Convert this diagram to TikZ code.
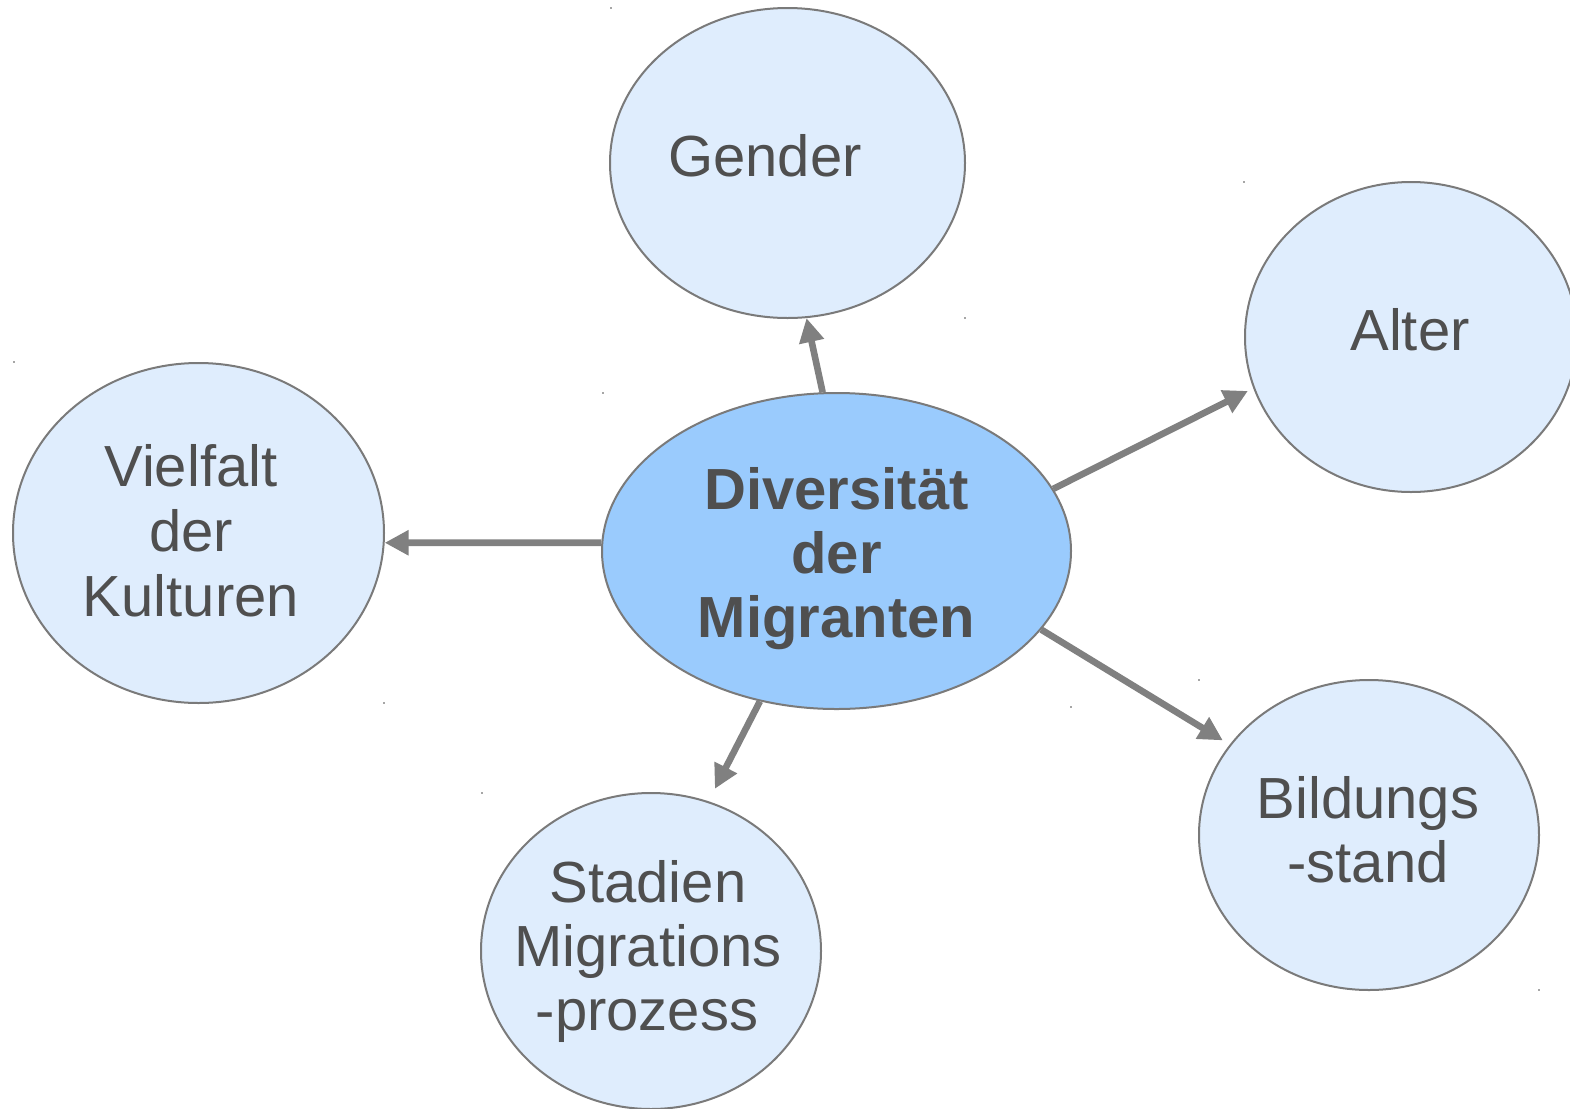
\documentclass[tikz,border=0pt]{standalone}
\usepackage{fontspec}
\setmainfont{Liberation Sans}
\usetikzlibrary{shapes.geometric,arrows.meta}
\definecolor{lightfill}{HTML}{DFEDFD}
\definecolor{mainfill}{HTML}{9ACBFD}
\definecolor{bordergray}{HTML}{7A7A7A}
\definecolor{txtgray}{HTML}{4F4F4F}
\definecolor{arrowgray}{HTML}{808080}
\tikzset{
  bubble/.style={ellipse, draw=bordergray, line width=1pt, fill=lightfill, inner sep=0pt},
  mainbubble/.style={bubble, fill=mainfill},
  lbl/.style={anchor=base, inner sep=0pt, text=txtgray, font=\fontsize{29pt}{32pt}\selectfont},
  mainlbl/.style={lbl, font=\fontsize{29pt}{32pt}\selectfont\bfseries},
  link/.style={draw=arrowgray, line width=3.3pt, -{Triangle[length=12pt,width=12pt]}},
  speck/.style={fill=arrowgray!70, inner sep=0pt, minimum size=1pt}
}
\begin{document}
\begin{tikzpicture}[x=0.5pt,y=-0.5pt]
\useasboundingbox (0,0) rectangle (1570,1109);
\clip (0,0) rectangle (1570,1109);
\fill[white] (0,0) rectangle (1570,1109);

% bubbles
\node[bubble, minimum width=177.5pt, minimum height=155pt] (g) at (787.5,163) {};
\node[bubble, minimum width=166pt, minimum height=155pt] (a) at (1411,337) {};
\node[bubble, minimum width=185.5pt, minimum height=170pt] (v) at (198.5,533) {};
\node[mainbubble, minimum width=234.5pt, minimum height=158pt] (c) at (836.5,551) {};
\node[bubble, minimum width=170pt, minimum height=158pt] (s) at (651,951) {};
\node[bubble, minimum width=170pt, minimum height=155pt] (b) at (1369,835) {};

% labels
\node[lbl] (gt) at (765,176) {Gender};
\node[lbl] (at) at (1410,350) {Alter};
\node[lbl] (v1) at (191,486) {Vielfalt};
\node[lbl] (v2) at (191,551) {der};
\node[lbl] (v3) at (191,616) {Kulturen};
\node[mainlbl] (c1) at (836.5,509) {Diversität};
\node[mainlbl] (c2) at (836.5,573) {der};
\node[mainlbl] (c3) at (836.5,637) {Migranten};
\node[lbl] (s1) at (648,902) {Stadien};
\node[lbl] (s2) at (648,966) {Migrations};
\node[lbl] (s3) at (647,1030) {-prozess};
\node[lbl] (b1) at (1368,818) {Bildungs};
\node[lbl] (b2) at (1368,882) {-stand};

% connectors
\draw[link] (c.95.3) -- (g.-83.2);
\draw[link, shorten >=3pt] (c.16.2) -- (a.198.9);
\draw[link] (c.178.5) -- (v.-3.4);
\draw[link, shorten >=7pt] (c.243) -- (s.69.5);
\draw[link, shorten >=4pt] (c.-21.5) -- (b.147.3);

% small specks
\foreach \p/\n in {{(611,8)}/d1,{(1244,182)}/d2,{(965,318)}/d3,{(14,362)}/d4,{(603,393)}/d5,{(384,703)}/d6,{(1071,707)}/d7,{(1199,680)}/d8,{(482,793)}/d9,{(1539,990)}/d10}
  \node[speck] (\n) at \p {};
\end{tikzpicture}
\end{document}
